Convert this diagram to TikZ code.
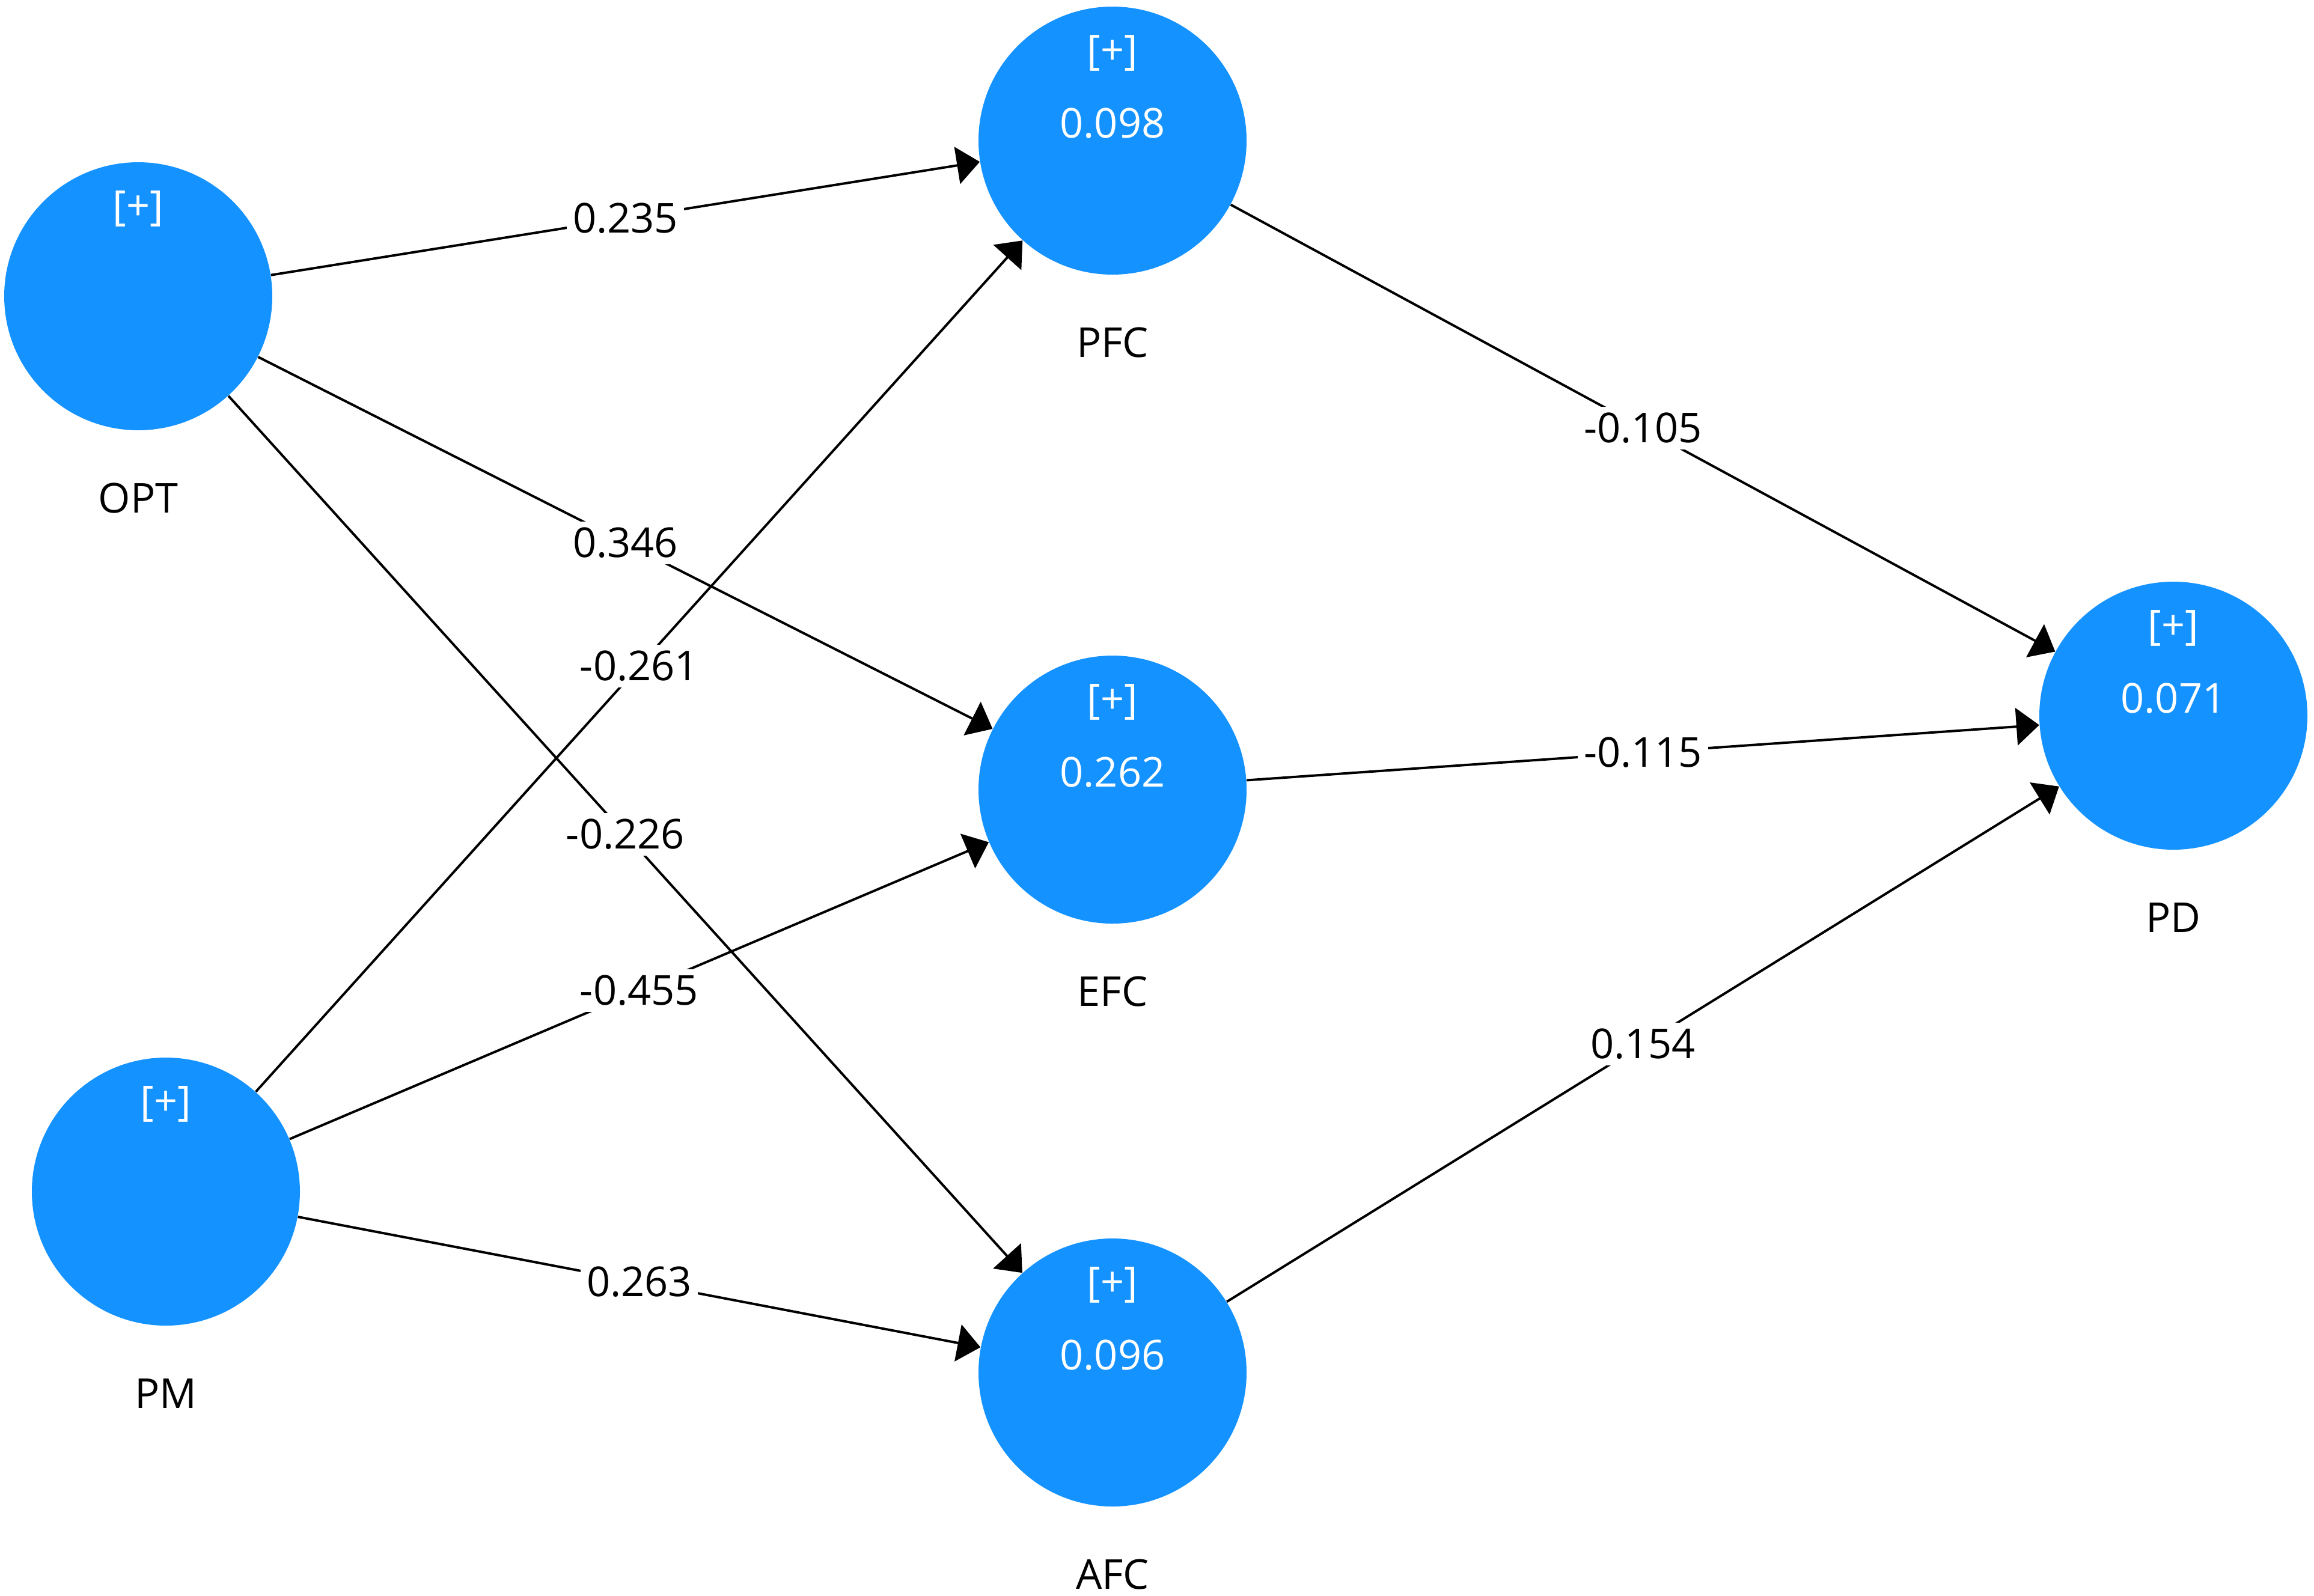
\documentclass[tikz,border=0pt]{standalone}
\usepackage{fontspec}
\setmainfont{Open Sans}
\usetikzlibrary{arrows.meta}
\definecolor{azulvar}{RGB}{20,146,255}

\begin{document}
\begin{tikzpicture}[
  var/.style={circle,fill=azulvar,minimum size=4.46cm,inner sep=0pt},
  txtin/.style={text=white,font=\fontsize{19.5}{23}\selectfont},
  nombre/.style={font=\fontsize{19.5}{23}\selectfont},
  peso/.style={fill=white,inner sep=0.1cm,font=\fontsize{19.5}{23}\selectfont},
  flecha/.style={line width=0.04cm,-{Triangle[length=0.38cm,width=0.62cm]}}]
%marco de la figura
\useasboundingbox (0,0) rectangle (38.5,-26.55);

%variables latentes con su nombre debajo
\foreach \n/\x/\y in {OPT/2.30/-4.93,PM/2.76/-19.83,PFC/18.51/-2.34,EFC/18.51/-13.14,AFC/18.51/-22.84,PD/36.16/-11.91}
{
	\node[var] (\n) at (\x,\y) {};
	\node[txtin] (\n-s) at (\x,\y+1.46) {[+]};
	\node[nombre] (\n-n) at (\x,\y-3.36) {\n};
}

%valores R cuadrado de las endogenas
\foreach \n/\v in {PFC/0.098,EFC/0.262,AFC/0.096,PD/0.071}
	\node[txtin] (\n-v) at ([yshift=0.29cm]\n.center) {\v};

%coeficientes de camino
\foreach \a/\b/\w in {OPT/PFC/0.235,OPT/EFC/0.346,OPT/AFC/-0.226,PM/PFC/-0.261,PM/EFC/-0.455,PM/AFC/0.263,PFC/PD/-0.105,EFC/PD/-0.115,AFC/PD/0.154}
	\draw[flecha] (\a) -- node[peso] {\w} (\b);
\end{tikzpicture}
\end{document}
